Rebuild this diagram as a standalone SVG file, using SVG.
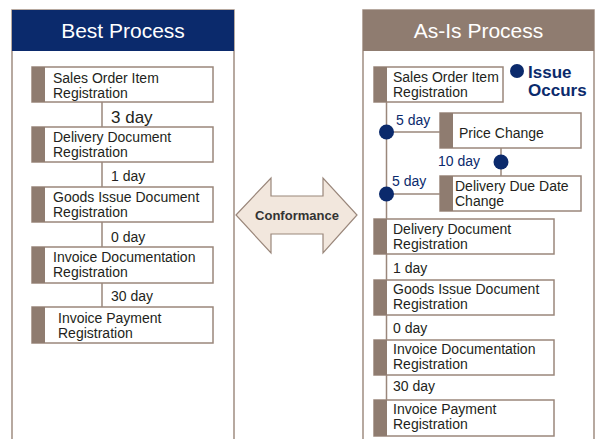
<svg xmlns="http://www.w3.org/2000/svg" width="598" height="439" viewBox="0 0 598 439">
  <defs>
    <style>
      .panel { fill: #ffffff; stroke: #a08d81; stroke-width: 1.5; }
      .hdr-best { fill: #0b2a6c; }
      .hdr-asis { fill: #8f7c70; }
      .hdr-txt { font-family: "Liberation Sans", Arial, sans-serif; font-size: 21px; fill: #ffffff; text-anchor: middle; }
      .box { fill: #ffffff; stroke: #9a877b; stroke-width: 1.5; }
      .bar { fill: #8f7c70; }
      .txt { font-family: "Liberation Sans", Arial, sans-serif; font-size: 14px; fill: #231f20; }
      .lbl { font-family: "Liberation Sans", Arial, sans-serif; font-size: 14px; fill: #231f20; }
      .lbl-big { font-size: 17px; }
      .lbl-blue { fill: #0b2a6c; }
      .line { stroke: #9a877b; stroke-width: 1.5; fill: none; }
      .dot { fill: #0b2a6c; }
      .issue { font-family: "Liberation Sans", Arial, sans-serif; font-size: 17px; font-weight: bold; fill: #0b2a6c; }
      .arrow { fill: #f2e7dd; stroke: #9a877b; stroke-width: 1.2; }
      .arrow-txt { font-family: "Liberation Sans", Arial, sans-serif; font-size: 13px; font-weight: bold; fill: #333333; text-anchor: middle; }
    </style>
  </defs>

  <!-- Left panel: Best Process -->
  <g id="panel-best">
    <path class="panel" d="M12,440 V10 H234 V440"/>
    <rect class="hdr-best" x="12" y="10" width="222" height="41"/>
    <text class="hdr-txt" x="123" y="38">Best Process</text>
  </g>

  <!-- Right panel: As-Is Process -->
  <g id="panel-asis">
    <path class="panel" d="M363,440 V10 H594 V440"/>
    <rect class="hdr-asis" x="363" y="10" width="231" height="41"/>
    <text class="hdr-txt" x="478.5" y="38">As-Is Process</text>
  </g>

  <!-- Connectors -->
  <g id="connectors">
    <!-- best process chain -->
    <line class="line" x1="102" y1="102" x2="102" y2="127"/>
    <line class="line" x1="102" y1="162" x2="102" y2="187"/>
    <line class="line" x1="102" y1="222" x2="102" y2="247"/>
    <line class="line" x1="102" y1="283" x2="102" y2="307"/>
    <!-- as-is process chain -->
    <line class="line" x1="386.5" y1="102" x2="386.5" y2="219"/>
    <line class="line" x1="386.5" y1="132" x2="440" y2="132"/>
    <line class="line" x1="386.5" y1="194" x2="440" y2="194"/>
    <line class="line" x1="501" y1="148" x2="501" y2="176"/>
    <line class="line" x1="386.5" y1="254" x2="386.5" y2="280"/>
    <line class="line" x1="386.5" y1="315" x2="386.5" y2="340"/>
    <line class="line" x1="386.5" y1="375" x2="386.5" y2="400"/>
    <circle class="dot" cx="386.5" cy="132" r="7.5"/>
    <circle class="dot" cx="386.5" cy="194" r="7.5"/>
    <circle class="dot" cx="501" cy="162" r="7.5"/>
  </g>

  <!-- Best process nodes -->
  <g id="best-sales-order">
    <rect class="box" x="32" y="67" width="181" height="35"/>
    <rect class="bar" x="32" y="67" width="13" height="35"/>
    <text class="txt" x="53" y="83">Sales Order Item</text>
    <text class="txt" x="53" y="98">Registration</text>
  </g>
  <g id="best-delivery-doc">
    <rect class="box" x="32" y="127" width="181" height="35"/>
    <rect class="bar" x="32" y="127" width="13" height="35"/>
    <text class="txt" x="53" y="142">Delivery Document</text>
    <text class="txt" x="53" y="157">Registration</text>
  </g>
  <g id="best-goods-issue">
    <rect class="box" x="32" y="187" width="181" height="35"/>
    <rect class="bar" x="32" y="187" width="13" height="35"/>
    <text class="txt" x="53" y="202">Goods Issue Document</text>
    <text class="txt" x="53" y="217">Registration</text>
  </g>
  <g id="best-invoice-doc">
    <rect class="box" x="32" y="247" width="181" height="36"/>
    <rect class="bar" x="32" y="247" width="13" height="36"/>
    <text class="txt" x="53" y="262">Invoice Documentation</text>
    <text class="txt" x="53" y="277">Registration</text>
  </g>
  <g id="best-invoice-pay">
    <rect class="box" x="32" y="307" width="181" height="36"/>
    <rect class="bar" x="32" y="307" width="13" height="36"/>
    <text class="txt" x="58" y="323">Invoice Payment</text>
    <text class="txt" x="58" y="338">Registration</text>
  </g>

  <!-- Best process lead times -->
  <g id="best-labels">
    <text class="lbl lbl-big" x="111" y="123">3 day</text>
    <text class="lbl" x="111" y="181">1 day</text>
    <text class="lbl" x="111" y="242">0 day</text>
    <text class="lbl" x="111" y="301">30 day</text>
  </g>

  <!-- Conformance double arrow -->
  <g id="conformance">
    <path class="arrow" d="M236,215 L271,178 L271,196 L323,196 L323,178 L357,215 L323,253 L323,234 L271,234 L271,253 Z"/>
    <text class="arrow-txt" x="297" y="220">Conformance</text>
  </g>

  <!-- As-is process nodes -->
  <g id="asis-sales-order">
    <rect class="box" x="374" y="67" width="129" height="35"/>
    <rect class="bar" x="374" y="67" width="13" height="35"/>
    <text class="txt" x="393" y="82">Sales Order Item</text>
    <text class="txt" x="393" y="97">Registration</text>
  </g>
  <g id="issue-legend">
    <circle class="dot" cx="517" cy="71" r="7"/>
    <text class="issue" x="528" y="78">Issue</text>
    <text class="issue" x="528" y="96">Occurs</text>
  </g>
  <g id="asis-price-change">
    <rect class="box" x="440" y="113" width="141" height="35"/>
    <rect class="bar" x="440" y="113" width="13" height="35"/>
    <text class="txt" x="459" y="138">Price Change</text>
  </g>
  <g id="asis-due-date">
    <rect class="box" x="440" y="176" width="141" height="35"/>
    <rect class="bar" x="440" y="176" width="13" height="35"/>
    <text class="txt" x="455" y="191">Delivery Due Date</text>
    <text class="txt" x="455" y="206">Change</text>
  </g>
  <g id="asis-delivery-doc">
    <rect class="box" x="374" y="219" width="180" height="35"/>
    <rect class="bar" x="374" y="219" width="13" height="35"/>
    <text class="txt" x="393" y="234">Delivery Document</text>
    <text class="txt" x="393" y="249">Registration</text>
  </g>
  <g id="asis-goods-issue">
    <rect class="box" x="374" y="280" width="180" height="35"/>
    <rect class="bar" x="374" y="280" width="13" height="35"/>
    <text class="txt" x="393" y="294">Goods Issue Document</text>
    <text class="txt" x="393" y="309">Registration</text>
  </g>
  <g id="asis-invoice-doc">
    <rect class="box" x="374" y="340" width="180" height="35"/>
    <rect class="bar" x="374" y="340" width="13" height="35"/>
    <text class="txt" x="393" y="354">Invoice Documentation</text>
    <text class="txt" x="393" y="369">Registration</text>
  </g>
  <g id="asis-invoice-pay">
    <rect class="box" x="374" y="400" width="180" height="36"/>
    <rect class="bar" x="374" y="400" width="13" height="36"/>
    <text class="txt" x="393" y="414">Invoice Payment</text>
    <text class="txt" x="393" y="429">Registration</text>
  </g>

  <!-- As-is lead times -->
  <g id="asis-labels">
    <text class="lbl lbl-blue" x="396" y="125">5 day</text>
    <text class="lbl lbl-blue" x="438" y="166">10 day</text>
    <text class="lbl lbl-blue" x="392" y="186">5 day</text>
    <text class="lbl" x="393" y="273">1 day</text>
    <text class="lbl" x="393" y="333">0 day</text>
    <text class="lbl" x="393" y="391">30 day</text>
  </g>
</svg>
